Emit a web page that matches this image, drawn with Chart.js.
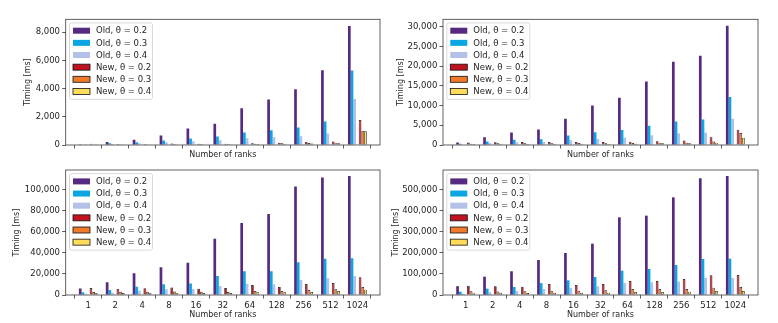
<!DOCTYPE html>
<html><head><meta charset="utf-8">
<script src="https://cdn.jsdelivr.net/npm/chart.js@4.4.1/dist/chart.umd.min.js"></script>
<style>
html,body{margin:0;padding:0;background:#fff;width:778px;height:323px;overflow:hidden}
canvas{position:absolute;display:block}
</style></head><body>
<canvas id="c0" width="389" height="160" style="left:0px;top:0px"></canvas>
<canvas id="c1" width="389" height="160" style="left:389px;top:0px"></canvas>
<canvas id="c2" width="389" height="163" style="left:0px;top:160px"></canvas>
<canvas id="c3" width="389" height="163" style="left:389px;top:160px"></canvas>
<script>
// ---------- data ----------
const ranks = ['1','2','4','8','16','32','64','128','256','512','1024'];
const seriesNames = ['Old, θ = 0.2','Old, θ = 0.3','Old, θ = 0.4','New, θ = 0.2','New, θ = 0.3','New, θ = 0.4'];

// top-left panel
const tlOld02 = [50, 215, 380, 670, 1170, 1500, 2600, 3230, 3950, 5300, 8450];
const tlOld03 = [35, 120, 190, 320, 460, 600, 890, 1050, 1240, 1670, 5280];
const tlOld04 = [20, 70, 120, 190, 260, 330, 480, 545, 615, 810, 3270];
const tlNew02 = [90, 75, 70, 110, 90, 95, 120, 165, 220, 250, 1770];
const tlNew03 = [60, 60, 50, 65, 70, 70, 95, 120, 140, 165, 1000];
const tlNew04 = [50, 50, 40, 50, 60, 60, 70, 95, 115, 120, 980];

// top-right panel
const trOld02 = [620, 1950, 3150, 3900, 6650, 10000, 12000, 16100, 21100, 22600, 30200];
const trOld03 = [300, 880, 1300, 1480, 2400, 3200, 3800, 4900, 5950, 6450, 12150];
const trOld04 = [120, 500, 680, 780, 1220, 1500, 1900, 2450, 2960, 3130, 6650];
const trNew02 = [620, 680, 760, 760, 760, 760, 845, 930, 1150, 1950, 3890];
const trNew03 = [340, 420, 420, 420, 500, 420, 500, 590, 590, 870, 3050];
const trNew04 = [250, 250, 250, 250, 340, 250, 340, 420, 420, 600, 1800];

// bottom-left panel
const blOld02 = [6200, 12060, 20800, 26350, 30800, 53650, 68580, 77150, 103200, 111760, 113350];
const blOld03 = [2540, 4760, 7800, 10160, 11000, 18100, 22540, 22540, 31100, 34600, 34900];
const blOld04 = [1270, 2220, 4000, 5400, 5600, 8600, 10800, 10160, 14290, 15900, 18100];
const blNew02 = [6670, 5800, 6500, 7100, 5900, 6670, 9500, 7620, 10480, 11430, 16830];
const blNew03 = [2860, 3000, 3000, 3300, 3000, 2860, 3800, 3800, 4760, 5400, 7620];
const blNew04 = [1590, 1900, 1590, 2000, 1800, 1900, 2540, 2540, 2860, 3800, 5080];

// bottom-right panel
const brOld02 = [42000, 87300, 113000, 166700, 200000, 244400, 369800, 377700, 465000, 555500, 566600];
const brOld03 = [15870, 30150, 38100, 56500, 69800, 85700, 115900, 123800, 142800, 171400, 173000];
const brOld04 = [6350, 13500, 19500, 28600, 34000, 41300, 57100, 60300, 63500, 82500, 81000];
const brNew02 = [43600, 42000, 39700, 52400, 47600, 52400, 66700, 66700, 76200, 93600, 95200];
const brNew03 = [18200, 17000, 17460, 20000, 20000, 22200, 28600, 28600, 28600, 34900, 38100];
const brNew04 = [11100, 10300, 9500, 11000, 10300, 11100, 14300, 14300, 15900, 19000, 19000];

// y-axis ticks per panel
const tlYTicks = [0, 2000, 4000, 6000, 8000];
const trYTicks = [0, 5000, 10000, 15000, 20000, 25000, 30000];
const blYTicks = [0, 20000, 40000, 60000, 80000, 100000];
const brYTicks = [0, 100000, 200000, 300000, 400000, 500000];

// ---------- styling ----------
const colors = ['#552a80', '#0aa6e2', '#b3c1e8', '#c0121f', '#ef7a2c', '#fddc5c'];
const FONT = {family: "'DejaVu Sans', sans-serif", size: 8.5, lineHeight: 1.2};
const TFONT = {family: "'DejaVu Sans', sans-serif", size: 8, lineHeight: 1.2};
const TEXT = '#1e1e1e';
Chart.defaults.font.family = FONT.family;
Chart.defaults.font.size = FONT.size;
Chart.defaults.color = TEXT;

const framePlugin = {
  id: 'frame',
  afterDatasetsDraw(chart) {
    const {ctx, chartArea: a} = chart;
    ctx.save();
    ctx.strokeStyle = '#3a3a3a';
    ctx.lineWidth = 0.8;
    ctx.strokeRect(a.left, a.top, a.right - a.left, a.bottom - a.top);
    ctx.restore();
  }
};

const legendPlugin = {
  id: 'innerLegend',
  afterDraw(chart) {
    const {ctx, chartArea: a} = chart;
    const items = chart.data.datasets.filter(d => d.label);
    const bx = a.left + 3.8, by = a.top + 3.6, bw = 83, bh = 76.5;
    ctx.save();
    ctx.globalAlpha = 0.85;
    ctx.fillStyle = '#fff';
    ctx.beginPath();
    ctx.roundRect(bx, by, bw, bh, 2);
    ctx.fill();
    ctx.globalAlpha = 1;
    ctx.strokeStyle = '#cfcfcf';
    ctx.lineWidth = 0.8;
    ctx.stroke();
    ctx.font = FONT.size + 'px ' + FONT.family;
    ctx.textBaseline = 'middle';
    ctx.textAlign = 'left';
    items.forEach((d, i) => {
      const cy = by + 7.8 + i * 12.15;
      const sx = bx + 3.5, sw = 17, sh = 6;
      ctx.fillStyle = d.backgroundColor;
      ctx.fillRect(sx, cy - sh / 2, sw, sh);
      if (d.borderWidth) {
        ctx.strokeStyle = '#111';
        ctx.lineWidth = 0.8;
        ctx.strokeRect(sx, cy - sh / 2, sw, sh);
      }
      ctx.fillStyle = TEXT;
      ctx.fillText(d.label, bx + 26.5, cy + 0.5);
    });
    ctx.restore();
  }
};

function xy(arr) { return arr.map((v, i) => ({x: i, y: v})); }

function makeChart(id, series, yTicks, yMax, pad, yW, xH, showX) {
  const ds = [];
  series.forEach((s, k) => {
    if (k === 3) {
      ds.push({label: '', data: ranks.map((_, i) => ({x: i, y: null})), backgroundColor: 'rgba(0,0,0,0)', borderWidth: 0});
    }
    const isNew = k >= 3;
    ds.push({
      label: seriesNames[k],
      data: xy(s),
      backgroundColor: colors[k],
      borderColor: '#111',
      borderWidth: isNew ? 0.7 : 0,
      borderSkipped: false
    });
  });
  const tickGrid = {display: true, drawOnChartArea: false, drawTicks: true, tickLength: 3.5, color: '#333', lineWidth: 0.8};
  new Chart(document.getElementById(id), {
    type: 'bar',
    data: {datasets: ds},
    options: {
      responsive: false, animation: false, devicePixelRatio: 1,
      layout: {padding: pad},
      plugins: {legend: {display: false}, tooltip: {enabled: false}},
      datasets: {bar: {categoryPercentage: 0.7, barPercentage: 1.0, grouped: true}},
      scales: {
        x: {
          type: 'linear', min: -0.84, max: 10.84, offset: false,
          afterBuildTicks: s => { s.ticks = ranks.map((_, i) => ({value: i})); },
          afterFit: s => { s.height = xH; },
          ticks: {callback: v => showX ? ranks[v] : '', padding: 2, maxRotation: 0, autoSkip: false, color: TEXT, font: FONT},
          grid: tickGrid,
          border: {display: false},
          title: {display: true, text: 'Number of ranks', padding: 0, color: TEXT, font: TFONT}
        },
        y: {
          min: 0, max: yMax,
          afterBuildTicks: s => { s.ticks = yTicks.map(v => ({value: v})); },
          afterFit: s => { s.width = yW; },
          ticks: {callback: v => Number(v).toLocaleString('en-US'), padding: 2.2, color: TEXT, font: FONT},
          grid: tickGrid,
          border: {display: false},
          title: {display: true, text: 'Timing [ms]', padding: 0, color: TEXT, font: TFONT}
        }
      }
    },
    plugins: [framePlugin, legendPlugin]
  });
}

makeChart('c0', [tlOld02, tlOld03, tlOld04, tlNew02, tlNew03, tlNew04], tlYTicks, 8920,
  {left: 23.5, right: 9, top: 19.3, bottom: 0.3}, 42.2, 14.7, false);
makeChart('c1', [trOld02, trOld03, trOld04, trNew02, trNew03, trNew04], trYTicks, 31850,
  {left: 6.9, right: 20, top: 19.3, bottom: 0.3}, 47.1, 14.7, false);
makeChart('c2', [blOld02, blOld03, blOld04, blNew02, blNew03, blNew04], blYTicks, 119000,
  {left: 11.9, right: 9, top: 10, bottom: 2.9}, 53.8, 25.1, true);
makeChart('c3', [brOld02, brOld03, brOld04, brNew02, brNew03, brNew04], brYTicks, 595000,
  {left: 2.2, right: 20, top: 10, bottom: 2.9}, 51.8, 25.1, true);
</script>
</body></html>
